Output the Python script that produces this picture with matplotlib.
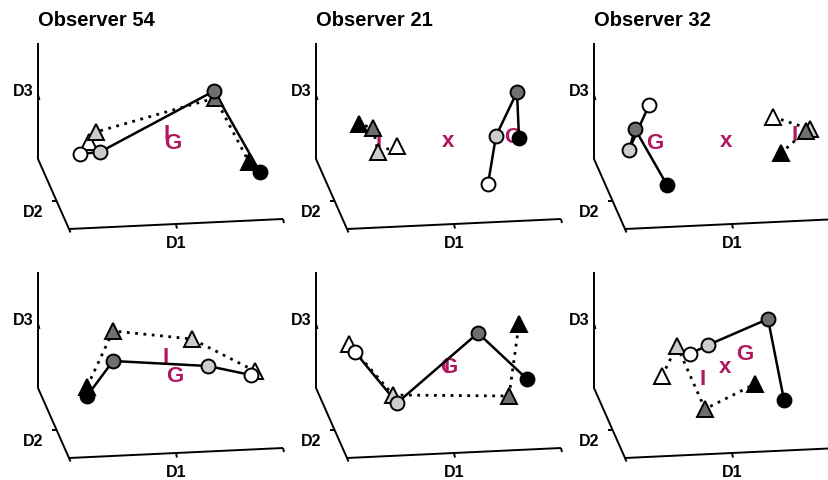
import matplotlib.pyplot as plt

plt.rcParams['font.family'] = ['Liberation Sans', 'DejaVu Sans']

W, H = 829, 481
COL_STEP, ROW_STEP = 278, 229
PANEL_W, PANEL_H = 290, 252

titles = ["Observer 54", "Observer 21", "Observer 32"]
shades = ["white", "#cccccc", "#6f6f6f", "black"]
magenta = "#b0175e"

# projected positions (D1 across, D3 down the panel), ordered white -> light gray -> dark gray -> black
circ_x = [
    [80, 100, 214, 260], [210, 218, 239, 241], [93, 73, 79, 111],
    [251, 208, 113, 87], [77, 119, 200, 249], [134, 152, 212, 228],
]
circ_y = [
    [155, 153, 92, 173], [185, 137, 93, 139], [106, 151, 130, 186],
    [147, 138, 133, 168], [124, 175, 105, 151], [126, 117, 91, 172],
]
tri_x = [
    [89, 96, 215, 249], [119, 100, 95, 81], [217, 254, 250, 225],
    [255, 192, 113, 87], [71, 115, 231, 241], [106, 121, 149, 199],
]
tri_y = [
    [143, 133, 99, 163], [147, 153, 129, 125], [118, 130, 132, 154],
    [143, 111, 103, 159], [116, 167, 168, 96], [148, 118, 181, 156],
]
# centroid labels: (text, x, y)
labels = [
    [("I", 167, 135), ("G", 173, 144)],
    [("I", 101, 142), ("x", 170, 142), ("G", 235, 138)],
    [("G", 99, 144), ("x", 170, 142), ("I", 239, 136)],
    [("I", 166, 129), ("G", 175, 148)],
    [("I", 169, 139), ("G", 171, 139)],
    [("I", 147, 151), ("x", 169, 139), ("G", 189, 126)],
]

fig = plt.figure(figsize=(W / 100, H / 100), dpi=100)

for i in range(6):
    r, c = divmod(i, 3)
    left = c * COL_STEP
    top = r * ROW_STEP
    ax = fig.add_axes([left / W, 1 - (top + PANEL_H) / H, PANEL_W / W, PANEL_H / H])
    ax.set_xlim(0, PANEL_W)
    ax.set_ylim(PANEL_H, 0)
    ax.axis('off')
    ax.patch.set_alpha(0)

    # pseudo 3-D box edges
    k = dict(color='black', lw=1.4, clip_on=False, solid_capstyle='butt')
    ax.plot([38, 38, 69, 283], [44, 160, 230, 220], **k)
    ax.plot([38, 39.5], [96, 101], **k)
    ax.plot([52, 56.6], [202, 202], **k)
    ax.plot([176, 177], [225.3, 229.5], **k)
    ax.plot([283, 284], [220, 224], **k)
    ax.plot([69, 70.5], [230, 233.5], **k)
    ax.text(34, 92, "D3", ha='right', va='center', fontsize=11.5, fontweight='bold')
    ax.text(33, 213, "D2", ha='center', va='center', fontsize=11.5, fontweight='bold')
    ax.text(176, 244, "D1", ha='center', va='center', fontsize=11.5, fontweight='bold')
    if r == 0:
        ax.text(38, 20, titles[c], ha='left', va='center', fontsize=14.5, fontweight='bold')

    for t, x, y in labels[i]:
        ax.text(x, y, t, color=magenta, ha='center', va='center', fontsize=16,
                fontweight='bold', zorder=1)

    ax.plot(tri_x[i], tri_y[i], ls=(0, (1, 2)), color='black', lw=2, zorder=2)
    ax.plot(circ_x[i], circ_y[i], ls='-', color='black', lw=1.8, zorder=3)
    for j in range(4):
        ax.plot(tri_x[i][j], tri_y[i][j], marker='^', ms=11, mfc=shades[j],
                mec='black', mew=1.4, zorder=4, clip_on=False)
    for j in range(4):
        ax.plot(circ_x[i][j], circ_y[i][j], marker='o', ms=10, mfc=shades[j],
                mec='black', mew=1.4, zorder=5, clip_on=False)

fig.savefig("out.png", dpi=100)
